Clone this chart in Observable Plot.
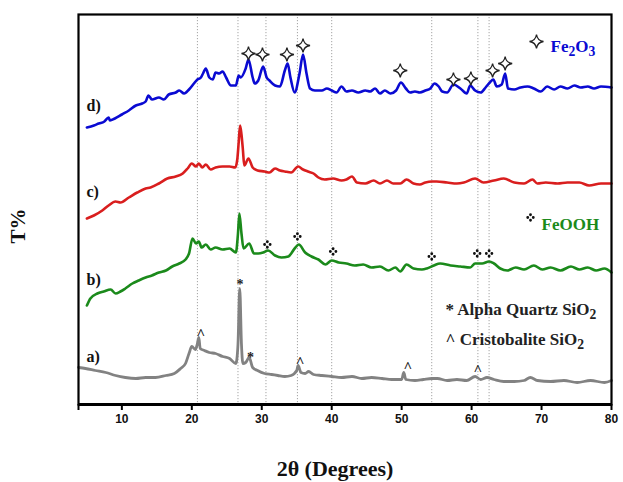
<!DOCTYPE html>
<html>
<head>
<meta charset="utf-8">
<script src="https://cdn.jsdelivr.net/npm/d3@7"></script>
<script src="https://cdn.jsdelivr.net/npm/@observablehq/plot@0.6"></script>
<style>
  body { margin: 0; background: #fff; }
  #chart svg { display: block; }
</style>
</head>
<body>
<div id="chart"></div>
<script>
// XRD patterns, stacked with offsets: [2θ in degrees, transmittance (offset units)]
const curveA = [[3.8,37],[4.8,36],[6.2,34],[7.7,32],[9.1,29],[10.5,27],[12.0,26],[13.4,27],[14.8,27],[16.3,29],[17.5,31],[18.4,36],[19.1,41],[19.6,51],[20.0,58],[20.5,55],[20.8,61],[21.0,67],[21.2,56],[21.8,54],[22.5,52],[23.4,51],[24.4,48],[25.4,46],[26.3,41],[26.6,60],[26.85,116],[27.1,60],[27.3,41],[27.7,42],[28.2,47],[28.7,37],[29.4,34],[30.4,31],[31.4,30],[32.3,29],[33.3,28],[34.2,29],[35.0,34],[35.2,39],[35.6,32],[36.2,31],[36.7,33],[37.4,30],[38.6,29],[40.0,28],[41.4,27],[42.9,28],[44.3,26],[45.7,27],[47.2,26],[48.6,25],[50.0,25],[50.3,32],[50.6,25],[51.9,24],[53.1,25],[54.3,26],[55.1,26],[56.5,24],[57.9,25],[59.3,24],[60.5,28],[61.3,25],[62.2,27],[63.2,25],[64.6,23],[66.1,23],[67.5,24],[68.4,27],[69.4,24],[71.3,23],[73.2,24],[75.1,22],[77.0,24],[79.0,22],[80.0,24]];

const curveB = [[5.0,99],[5.5,106],[6.5,111],[7.4,113],[8.4,115],[9.1,111],[9.8,113],[10.5,116],[11.5,121],[12.4,124],[13.4,127],[14.3,129],[15.3,132],[16.3,134],[17.2,138],[18.2,141],[19.1,145],[19.6,151],[20.1,166],[20.6,161],[21.0,163],[21.4,157],[22.0,160],[22.7,155],[23.4,157],[24.4,155],[25.4,156],[26.3,152],[26.6,171],[26.8,191],[27.1,171],[27.4,156],[28.2,161],[28.9,151],[29.5,151],[30.2,152],[30.9,154],[31.9,149],[32.8,147],[33.8,148],[34.7,156],[35.3,160],[36.2,152],[37.1,148],[38.1,145],[39.1,140],[40.0,144],[41.0,142],[42.1,141],[43.3,139],[44.5,140],[45.7,137],[46.9,138],[48.1,134],[49.1,137],[49.8,133],[50.7,140],[51.7,136],[52.9,135],[53.6,136],[54.6,139],[55.5,141],[57.0,139],[58.4,138],[59.8,137],[60.5,141],[61.5,141],[62.5,143],[63.2,141],[64.1,136],[65.1,134],[66.3,137],[67.5,135],[68.9,139],[70.1,135],[71.3,137],[72.7,134],[74.2,138],[75.4,135],[76.6,137],[77.8,134],[79.0,136],[80.0,132]];

const curveC = [[5.0,186],[6.0,189],[7.2,194],[8.1,199],[9.1,203],[9.8,202],[11.0,207],[12.2,212],[13.4,216],[14.1,217],[15.3,221],[16.5,226],[17.7,228],[18.7,231],[19.4,236],[20.0,241],[20.6,238],[21.0,241],[21.5,237],[22.0,240],[22.7,235],[23.4,237],[24.4,238],[25.4,238],[26.2,237],[26.5,245],[26.7,262],[26.9,279],[27.1,270],[27.3,255],[27.5,239],[28.1,246],[28.7,237],[29.4,234],[30.4,233],[31.1,232],[31.9,236],[32.6,234],[33.3,233],[34.2,232],[35.2,238],[35.9,235],[36.6,233],[37.4,231],[38.1,227],[39.0,225],[40.2,226],[41.4,224],[42.1,225],[42.9,228],[43.6,222],[44.8,221],[46.0,224],[46.9,221],[47.9,224],[48.8,221],[49.8,221],[50.7,225],[51.7,221],[52.6,220],[53.4,222],[54.3,223],[55.0,223],[56.5,222],[57.9,221],[58.9,222],[60.5,226],[61.7,222],[63.2,224],[64.6,226],[66.1,222],[67.5,221],[68.7,225],[69.4,221],[70.6,222],[72.3,221],[73.7,222],[75.4,222],[76.8,219],[78.5,221],[80.0,221]];

const curveD = [[5.0,277],[6.0,279],[6.7,281],[7.5,283],[8.1,287],[8.3,284],[9.0,286],[10.0,290],[11.0,294],[12.0,299],[12.9,301],[13.4,303],[13.8,309],[14.3,305],[15.3,307],[16.0,305],[16.7,310],[17.7,312],[18.2,314],[18.9,311],[19.6,315],[20.3,321],[20.8,325],[21.3,327],[21.6,331],[22.0,336],[22.5,327],[23.0,325],[23.4,332],[23.9,331],[24.4,333],[24.9,327],[25.6,319],[26.3,319],[26.7,329],[27.0,327],[27.7,336],[28.1,345],[28.7,327],[29.0,321],[29.5,324],[30.2,338],[30.7,327],[31.1,324],[31.9,319],[32.6,318],[33.3,334],[33.7,341],[34.1,327],[34.7,312],[35.4,331],[35.9,350],[36.4,331],[36.9,316],[37.6,314],[38.6,314],[39.3,316],[40.0,314],[40.7,312],[41.4,318],[42.1,313],[42.9,314],[43.8,312],[44.8,314],[45.5,313],[46.2,316],[46.9,311],[47.6,314],[48.4,311],[49.2,314],[49.9,322],[50.6,316],[51.2,312],[51.9,313],[52.6,312],[53.4,314],[54.1,316],[54.7,321],[55.3,318],[55.8,313],[56.5,312],[57.4,320],[58.4,316],[59.3,311],[59.8,319],[60.5,314],[61.3,312],[62.0,317],[62.6,322],[63.1,325],[63.6,318],[64.3,320],[64.8,331],[65.2,316],[66.1,315],[67.0,317],[68.0,318],[68.9,316],[69.9,313],[70.8,318],[71.8,315],[72.7,318],[73.7,316],[74.7,319],[75.6,317],[76.6,318],[77.5,316],[78.5,318],[80.0,317]];

// Phase markers: [2θ, height of the marker]
const fe2o3Marks = [[28.1,351],[30.1,350],[33.6,350],[35.9,359],[49.8,334],[57.4,325],[59.9,326],[63.0,334],[64.8,341]];
const feoohMarks = [[30.8,160],[35.1,168],[40.2,153],[54.3,148],[60.8,151],[62.5,151]];
const quartzMarks = [[26.9,123],[28.4,50]];
const cristobaliteMarks = [[21.3,73],[35.5,45],[50.9,40],[60.9,37]];

// Reference 2θ positions drawn as dotted guides
const guideLines = [20.8, 26.6, 30.6, 35.1, 40.0, 54.3, 60.9, 62.5];

const xDomain = [3.8, 80];
const xTicks = [10, 20, 30, 40, 50, 60, 70, 80];
const seriesLabels = ["a)", "b)", "c)", "d)"];
const legendTexts = ["Fe_2O_3", "FeOOH", "* Alpha Quartz SiO_2", "^ Cristobalite SiO_2"];

const serif = "'Liberation Serif', 'Times New Roman', serif";
const sans = "'Liberation Sans', Arial, sans-serif";
const colors = {a: "#828282", b: "#1b8a1b", c: "#d91e1e", d: "#0a0ad2"};

const rows = pts => pts.map(([t, v]) => ({t, v}));

// Four-pointed concave star outline
const star4 = {
  draw(ctx, size) {
    const r = Math.sqrt(size / Math.PI);
    const c = r * 0.12;
    ctx.moveTo(0, -r);
    ctx.quadraticCurveTo(c, -c, r, 0);
    ctx.quadraticCurveTo(c, c, 0, r);
    ctx.quadraticCurveTo(-c, c, -r, 0);
    ctx.quadraticCurveTo(-c, -c, 0, -r);
    ctx.closePath();
  }
};

// Four small dots arranged in a diamond
const fourDots = {
  draw(ctx, size) {
    const r = Math.sqrt(size / Math.PI);
    const d = r * 0.34;
    for (const [px, py] of [[0, -r + d], [r - d, 0], [0, r - d], [-r + d, 0]]) {
      ctx.moveTo(px + d, py);
      ctx.arc(px, py, d, 0, 2 * Math.PI);
    }
  }
};

const lineStyle = {x: "t", y: "v", strokeWidth: 2.6, strokeLinejoin: "round", curve: "monotone-x"};
const bold = (size, fill) => ({fontSize: size, fontWeight: "bold", fontFamily: serif, fill});

const plot = Plot.plot({
  width: 623,
  height: 482,
  marginLeft: 78,
  marginRight: 12,
  marginTop: 14,
  marginBottom: 78,
  x: {domain: xDomain, label: null},
  y: {domain: [0, 390], axis: null},
  style: {background: "#fff", overflow: "visible"},
  marks: [
    Plot.ruleX(guideLines, {stroke: "#a4a4a4", strokeWidth: 1, strokeDasharray: "1.2,1.8"}),

    Plot.line(rows(curveA), {...lineStyle, stroke: colors.a, strokeWidth: 2.8}),
    Plot.line(rows(curveB), {...lineStyle, stroke: colors.b}),
    Plot.line(rows(curveC), {...lineStyle, stroke: colors.c}),
    Plot.line(rows(curveD), {...lineStyle, stroke: colors.d}),

    // phase markers above the peaks
    Plot.dot(fe2o3Marks, {x: "0", y: "1", symbol: star4, r: 7, fill: "#fff", stroke: "#222", strokeWidth: 1.3}),
    Plot.dot(feoohMarks, {x: "0", y: "1", symbol: fourDots, r: 4.2, fill: "#111", stroke: "none"}),
    Plot.text(quartzMarks, {x: "0", y: "1", text: () => "*", dy: 3, ...bold(14, "#222")}),
    Plot.text(cristobaliteMarks, {x: "0", y: "1", text: () => "^", dy: 3, ...bold(15, "#222")}),

    // series labels
    Plot.text(seriesLabels, {frameAnchor: "left", dx: 8, y: [48, 125, 213, 299], text: d => d,
      textAnchor: "start", ...bold(16, "#111")}),

    // legend entries
    Plot.dot([legendTexts[0]], {frameAnchor: "top-right", dx: -75, dy: 27, symbol: star4, r: 7, fill: "#fff", stroke: "#222", strokeWidth: 1.3}),
    Plot.text([legendTexts[0]], {frameAnchor: "top-right", dx: -61, dy: 25, text: d => d, textAnchor: "start", ...bold(17, colors.d)}),
    Plot.dot([legendTexts[1]], {frameAnchor: "top-right", dx: -81, dy: 203, symbol: fourDots, r: 4.2, fill: "#111", stroke: "none"}),
    Plot.text([legendTexts[1]], {frameAnchor: "top-right", dx: -70, dy: 203, text: d => d, textAnchor: "start", ...bold(17, colors.b)}),
    Plot.text([legendTexts[2]], {frameAnchor: "top-right", dx: -166, dy: 288, text: d => d, textAnchor: "start", ...bold(17, "#222")}),
    Plot.text([legendTexts[3]], {frameAnchor: "top-right", dx: -166, dy: 318, text: d => d, textAnchor: "start", ...bold(17, "#222")}),

    // frame and x axis
    Plot.frame({stroke: "#000", strokeWidth: 2.2}),
    Plot.ruleY([0], {stroke: "#000", strokeWidth: 3}),
    Plot.axisX({ticks: [xDomain[0]], tickSize: 6, strokeWidth: 2, tickFormat: () => "", label: null}),
    Plot.axisX({ticks: xTicks, tickSize: 6, tickPadding: 4, strokeWidth: 2, tickFormat: d => String(d),
      fontSize: 12, fontWeight: "bold", fontFamily: sans, fill: "#111", label: null}),

    // axis titles
    Plot.text(["2θ (Degrees)"], {frameAnchor: "bottom", dx: -10, dy: 71, text: d => d, ...bold(22, "#111")}),
    Plot.text(["T%"], {frameAnchor: "left", dx: -60, dy: 34, rotate: -90, text: d => d, ...bold(21, "#111")})
  ]
});

// Render "_n" as a subscript digit in chemical formulas
plot.querySelectorAll("text").forEach(node => {
  const s = node.textContent;
  if (!s.includes("_")) return;
  const parts = s.split(/_(\d)/);
  node.textContent = "";
  parts.forEach((part, i) => {
    if (!part) return;
    const span = document.createElementNS("http://www.w3.org/2000/svg", "tspan");
    span.textContent = part;
    if (i % 2 === 1) {
      span.setAttribute("dy", "0.3em");
      span.setAttribute("font-size", "0.8em");
    } else if (i > 0) {
      span.setAttribute("dy", "-0.24em");
    }
    node.appendChild(span);
  });
});

document.getElementById("chart").appendChild(plot);
</script>
</body>
</html>
